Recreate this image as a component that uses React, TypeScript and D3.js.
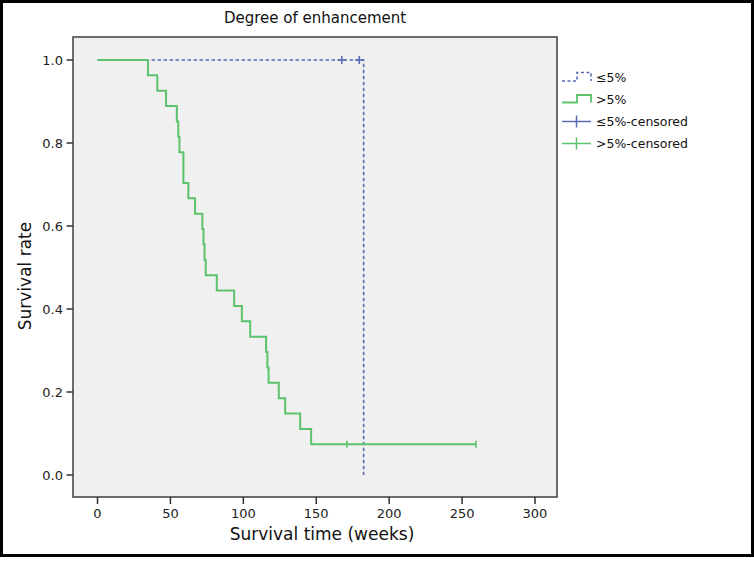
import React from "react";
import * as d3 from "d3";

// ---- data ----
const groupLabels = ["≤5%", ">5%"];
const lowEventTimes: number[] = [182.5];
const lowCensorTimes: number[] = [167.5, 179.5];
const highEventTimes: number[] = [
  34.6, 41, 47, 54.4, 55.4, 56.2, 58.9, 58.9, 62.3, 66.9, 71.9, 72.7, 73.4, 74.2,
  81.8, 93.7, 99, 104.7, 115.6, 116.5, 117.3, 124.3, 128.7, 139, 146.5,
];
const highCensorTimes: number[] = [171, 259.5];
const xTicks = [0, 50, 100, 150, 200, 250, 300];
const yTicks = [0, 0.2, 0.4, 0.6, 0.8, 1.0];
const legendLabels = ["≤5%", ">5%", "≤5%-censored", ">5%-censored"];

const BLUE = "#5b6ab4";
const GREEN = "#5cc36c";
const FONT = "'DejaVu Sans', Verdana, sans-serif";

type Pt = { t: number; s: number };

function kaplanMeier(events: number[], censored: number[]) {
  const all = [
    ...events.map((t) => ({ t, e: 1 })),
    ...censored.map((t) => ({ t, e: 0 })),
  ].sort((a, b) => a.t - b.t || b.e - a.e);
  let atRisk = all.length;
  let s = 1;
  const pts: Pt[] = [{ t: 0, s: 1 }];
  const cens: Pt[] = [];
  let i = 0;
  while (i < all.length) {
    const t = all[i].t;
    let d = 0;
    let c = 0;
    while (i < all.length && all[i].t === t) {
      if (all[i].e) d++;
      else c++;
      i++;
    }
    if (d > 0) {
      s = s * (1 - d / atRisk);
      pts.push({ t, s });
    }
    for (let k = 0; k < c; k++) cens.push({ t, s });
    atRisk -= d + c;
  }
  const lastT = all[all.length - 1].t;
  if (pts[pts.length - 1].t < lastT) pts.push({ t: lastT, s });
  return { pts, cens };
}

export default function App() {
  const W = 754;
  const H = 562;
  const frame = { left: 73, right: 557, top: 37, bottom: 497 };
  const x = d3.scaleLinear().domain([0, 300]).range([97.5, 535]);
  const y = d3.scaleLinear().domain([0, 1]).range([475, 60]);

  const low = kaplanMeier(lowEventTimes, lowCensorTimes);
  const high = kaplanMeier(highEventTimes, highCensorTimes);

  const line = d3
    .line<Pt>()
    .x((d) => x(d.t))
    .y((d) => y(d.s))
    .curve(d3.curveStepAfter);

  const legendX = 562;
  const legendRows = [77.5, 99.5, 121.5, 143.5];

  return (
    <div style={{ position: "fixed", left: 0, top: 0 }}>
      <svg width={W} height={H} style={{ display: "block", background: "#fff" }}>
        <rect x={1.5} y={1.5} width={751} height={554} fill="#fff" stroke="#000" strokeWidth={3} />
        <text x={(frame.left + frame.right) / 2} y={23} textAnchor="middle" fontFamily={FONT} fontSize={15} fill="#111">
          Degree of enhancement
        </text>
        <rect
          x={frame.left}
          y={frame.top}
          width={frame.right - frame.left}
          height={frame.bottom - frame.top}
          fill="#f0f0f0"
          stroke="#4a4a4a"
          strokeWidth={1.6}
        />
        {/* y axis ticks */}
        {yTicks.map((v) => (
          <g key={"y" + v}>
            <line x1={66.5} x2={frame.left} y1={y(v)} y2={y(v)} stroke="#333" strokeWidth={1.5} />
            <text x={63} y={y(v)} dy="0.36em" textAnchor="end" fontFamily={FONT} fontSize={13} fill="#222">
              {d3.format(".1f")(v)}
            </text>
          </g>
        ))}
        {/* x axis ticks */}
        {xTicks.map((v) => (
          <g key={"x" + v}>
            <line x1={x(v)} x2={x(v)} y1={frame.bottom} y2={504} stroke="#333" strokeWidth={1.5} />
            <text x={x(v)} y={518} textAnchor="middle" fontFamily={FONT} fontSize={13} fill="#222">
              {v}
            </text>
          </g>
        ))}
        <text x={322} y={540} textAnchor="middle" fontFamily={FONT} fontSize={17} fill="#111">
          Survival time (weeks)
        </text>
        <text
          transform={`translate(31,276) rotate(-90)`}
          textAnchor="middle"
          fontFamily={FONT}
          fontSize={17}
          fill="#111"
        >
          Survival rate
        </text>

        {/* curves */}
        <path d={line(low.pts) || ""} fill="none" stroke={BLUE} strokeWidth={1.6} strokeDasharray="3.5,2.5" />
        <path d={line(high.pts) || ""} fill="none" stroke={GREEN} strokeWidth={2} />
        {low.cens.map((c, i) => (
          <g key={"lc" + i} stroke={BLUE} strokeWidth={1.6}>
            <line x1={x(c.t) - 4} x2={x(c.t) + 4} y1={y(c.s)} y2={y(c.s)} />
            <line x1={x(c.t)} x2={x(c.t)} y1={y(c.s) - 4} y2={y(c.s) + 4} />
          </g>
        ))}
        {high.cens.map((c, i) => (
          <g key={"hc" + i} stroke={GREEN} strokeWidth={1.6}>
            <line x1={x(c.t)} x2={x(c.t)} y1={y(c.s) - 3.5} y2={y(c.s) + 3.5} />
          </g>
        ))}

        {/* legend */}
        <path
          d={`M${legendX},${legendRows[0] + 3.5}H${legendX + 15}V${legendRows[0] - 5}H${legendX + 29}V${legendRows[0] + 3.5}`}
          fill="none"
          stroke={BLUE}
          strokeWidth={1.6}
          strokeDasharray="3,2.5"
        />
        <path
          d={`M${legendX},${legendRows[1] + 3}H${legendX + 15}V${legendRows[1] - 4.5}H${legendX + 29}V${legendRows[1] + 3}`}
          fill="none"
          stroke={GREEN}
          strokeWidth={1.8}
        />
        {[BLUE, GREEN].map((col, i) => (
          <g key={"lg" + i} stroke={col} strokeWidth={1.5}>
            <line x1={legendX} x2={legendX + 29} y1={legendRows[2 + i]} y2={legendRows[2 + i]} />
            <line x1={legendX + 14.5} x2={legendX + 14.5} y1={legendRows[2 + i] - 6} y2={legendRows[2 + i] + 6} />
          </g>
        ))}
        {legendLabels.map((lab, i) => (
          <text key={lab} x={596} y={legendRows[i]} dy="0.36em" fontFamily={FONT} fontSize={12.5} fill="#111">
            {lab}
          </text>
        ))}
        <title>{groupLabels.join(" vs ")}</title>
      </svg>
    </div>
  );
}
